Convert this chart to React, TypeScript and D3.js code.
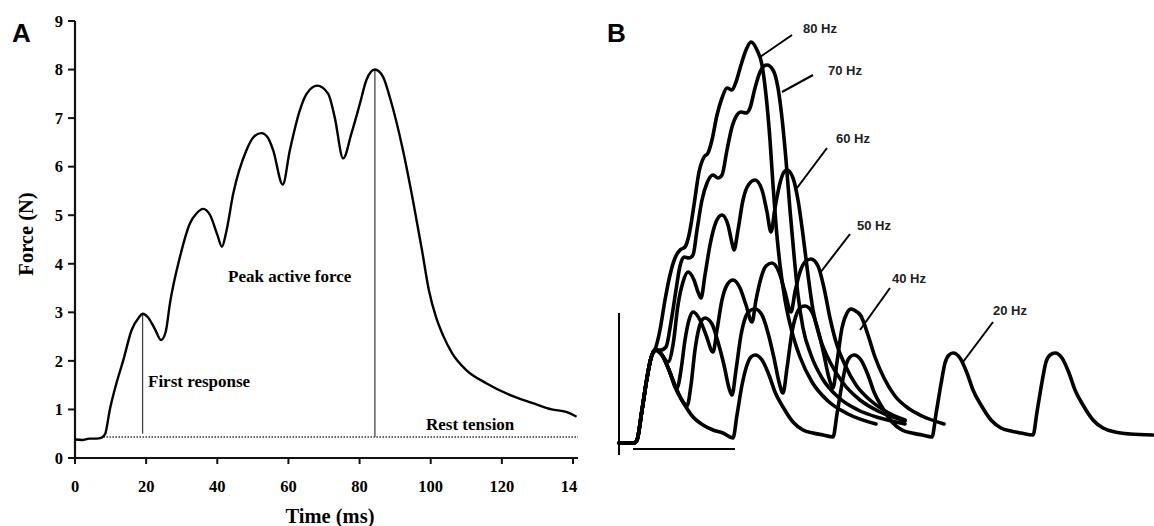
import React from 'react'
import * as d3 from 'd3'

// Panel A: single tetanic contraction, time (ms) vs force (N)
const forceTrace = [
  [0, 0.38], [2, 0.37], [4, 0.4], [6, 0.4], [7.5, 0.42], [8.5, 0.5], [9.8, 1.0], [11.5, 1.5],
  [13.6, 2.02], [15.9, 2.63], [18, 2.9], [19, 2.97], [20.5, 2.9], [22.5, 2.65], [24.2, 2.43],
  [25.5, 2.6], [26.7, 3.19], [29.5, 4.14], [32.3, 4.83], [34.2, 5.04], [36, 5.13], [38, 5.0],
  [40, 4.6], [41.3, 4.35], [42.5, 4.65], [44.5, 5.45], [48.2, 6.34], [50.1, 6.6], [52.4, 6.69],
  [54.2, 6.6], [55.7, 6.34], [58.4, 5.63], [60.4, 6.34], [63.2, 7.16], [65.1, 7.5], [68.1, 7.67],
  [71.2, 7.5], [73, 7.02], [75.4, 6.17], [77.7, 6.68], [80.1, 7.3], [81.9, 7.78], [84.3, 8.0],
  [86.6, 7.85], [88.5, 7.43], [92.2, 6.34], [95, 5.31], [97.5, 4.3], [99.5, 3.45], [101.5, 2.9],
  [103.5, 2.52], [106, 2.16], [110, 1.81], [115.6, 1.54], [122.2, 1.3], [128.7, 1.13], [134, 1.0],
  [138.1, 0.95], [141, 0.85],
]
const restTension = 0.43
const firstResponse = { t: 19, f: 2.96 }
const peakForce = { t: 84.3, f: 8.0 }
const xTicksA = [0, 20, 40, 60, 80, 100, 120, 140]
const yTicksA = [0, 1, 2, 3, 4, 5, 6, 7, 8, 9]

// Panel B: force traces (ms, % of 80 Hz peak) at several stimulation rates
const onset = [[-9, 0], [-1.5, 0], [0, 0.75], [2.5, 8.25], [5, 16.25], [7, 21.25], [9, 23.25]]
const hz80 = [
  [11.5, 28.25], [14, 35.75], [16.5, 42], [19, 46.25], [21.5, 48.25], [24, 49], [26, 52], [28.5, 59.5],
  [31, 67.75], [33.5, 71.5], [35.5, 72.5], [37.5, 75.75], [40, 82], [42.5, 86.25], [45, 88.75],
  [47.5, 88.25], [49.5, 90.25], [52, 94.5], [54.5, 98.25], [57, 100.25], [60, 98.25], [62.5, 94.5],
  [64.5, 87], [66.5, 75.75], [68, 64.5], [69.5, 54.5], [71.5, 44.5], [74, 35.75], [77.5, 27.75],
  [81.5, 21.5], [87.5, 15.25], [95.5, 10.5], [105.5, 7.25], [119.5, 4.75],
]
const hz70 = [
  [12, 23.25], [14.5, 24], [17, 30.25], [19.5, 38.25], [21.5, 44.25], [23.5, 46.5], [26, 46.25],
  [28, 47], [30, 53.25], [32.5, 60.75], [35, 65], [38, 67], [40.5, 66.25], [42.5, 67], [45, 73.25],
  [47.5, 79], [50, 82], [52, 82.75], [54.5, 82.5], [56.5, 83.75], [59, 88.75], [61.5, 92.75],
  [63.5, 94.25], [65, 94.5], [68, 93.25], [70.5, 88.75], [72.5, 81.25], [74.5, 70.75], [76.5, 58.25],
  [78.5, 47], [80.5, 37], [83, 28.75], [87, 22], [92.5, 16.25], [100.5, 11.5], [110.5, 8.25],
  [121.5, 6.25], [134, 4.75],
]
const hz60 = [
  [12.5, 22], [15.5, 20.25], [18, 24.5], [20.5, 34.5], [23, 40.25], [25.5, 42.75], [28.5, 40.75],
  [30.5, 37.75], [32, 36.25], [34, 42], [36.5, 49.5], [39.5, 55.25], [42.5, 57], [45.5, 54.5],
  [47.5, 50], [48.5, 48.25], [50.5, 53.25], [53, 60.75], [56, 64.75], [59, 65.75], [62.5, 63.25],
  [65, 57.75], [67, 52.75], [69, 58.75], [71.5, 65], [73.5, 67.75], [75, 68.25], [78, 66.25],
  [80.5, 60.75], [83, 52], [85.5, 42], [88, 33.25], [91.5, 26.25], [96.5, 20.25], [103, 15],
  [111.5, 10.75], [121.5, 7.75], [134, 5.5],
]
const hz50 = [
  [12.5, 22], [16, 18.25], [20, 13.75], [22, 18.25], [24, 25.75], [26, 30.75], [28, 32.75],
  [31.5, 30.75], [34.5, 27], [38, 22.75], [40, 28.25], [42.5, 35.75], [45, 39.5], [48, 40.75],
  [51.5, 38.75], [54.5, 34.5], [57.5, 30.25], [59.5, 35.75], [62, 41.25], [64.5, 44.25], [67.5, 45],
  [71, 42.75], [74, 37.75], [77, 32.75], [79, 37.75], [81.5, 42.75], [84, 45.25], [87, 46],
  [90.5, 44.25], [93.5, 38.75], [96.5, 31.25], [99.5, 25.25], [104, 19.5], [109.5, 14.5],
  [116.5, 10.75], [125, 7.75], [134, 5.75],
]
const hz40 = [
  [12.5, 22], [16, 18.25], [20, 13.25], [23, 10.25], [25, 9.25], [27, 14.5], [29, 23.25], [31, 28.75],
  [32.5, 30.75], [34, 31.25], [37.5, 29.75], [40.5, 25.25], [43.5, 19.5], [46, 13.75], [47.5, 12],
  [49.5, 18.25], [52, 27], [54.5, 31.75], [57, 33.25], [59, 33.5], [62.5, 32], [65.5, 27.5],
  [68.5, 21.25], [71, 15.25], [73, 12.5], [75, 18.75], [77.5, 27.75], [80, 32.5], [82, 34],
  [84, 34.25], [87.5, 32.75], [90.5, 28.25], [93.5, 22], [96, 16.25], [98, 13.75], [100, 20.25],
  [102.5, 28.75], [105, 32.5], [107, 33.5], [108.5, 33.25], [112, 31.75], [115.5, 27], [119, 21.5],
  [123.5, 16.25], [129, 11.75], [135.5, 8.75], [142.5, 6.75], [153.5, 4.75],
]
const hz20 = [
  [12.5, 22], [16, 18.25], [19, 14], [23, 10.25], [28, 6.5], [33, 4.5], [38, 3.25], [43, 2.5], [48, 1.25],
  [50, 7], [52.5, 14.5], [55, 19.5], [57, 21.5], [59, 22],
  [62.5, 20.75], [66, 17], [69, 12.75], [73, 9], [78, 5.25], [83, 3.25], [88, 2.5], [93, 2], [98, 1.5],
  [100, 7.25], [102.5, 14.75], [104.5, 19.5], [106.5, 21.5], [108.5, 22],
  [112, 20.75], [115.5, 17], [118.5, 12.75], [122.5, 9], [127.5, 5.25], [132.5, 3.25], [137.5, 2.5],
  [142.5, 2], [147.5, 1.5],
  [149.5, 7.25], [152, 14.75], [154, 20], [156, 22], [158, 22.5],
  [161.5, 21.25], [165, 17.5], [168, 13.25], [172, 9.5], [177, 5.75], [182, 3.75], [187, 3], [192, 2.5],
  [198, 2],
  [200, 7.75], [202.5, 15.25], [204.5, 20.25], [206.5, 22], [209, 22.5],
  [212.5, 21.25], [216, 17.5], [219, 13.25], [223, 9.5], [228, 5.75], [233, 3.75], [239, 2.75],
  [246.5, 2.25], [258, 2],
]
const traceRates = ['20 Hz', '40 Hz', '50 Hz', '60 Hz', '70 Hz', '80 Hz']
const traceBodies = [hz20, hz40, hz50, hz60, hz70, hz80]
const labelSpots = [
  [993, 315, 993, 322, 963, 362],
  [892, 283, 890, 288, 860, 330],
  [857, 230, 850, 234, 820, 273],
  [836, 143, 827, 148, 797, 188],
  [828, 75, 813, 75, 782, 92],
  [803, 33, 792, 35, 760, 57],
]
const scaleBarMs = [-2, 49]
const scaleBarForce = [-3, 32.5]

const serif = '"Liberation Serif", "Times New Roman", serif'
const sans = '"Liberation Sans", Arial, sans-serif'

const App = () => {
  const xA = d3.scaleLinear().domain([0, 140]).range([75, 573])
  const yA = d3.scaleLinear().domain([0, 9]).range([458, 21])
  const lineA = d3.line().x(d => xA(d[0])).y(d => yA(d[1])).curve(d3.curveMonotoneX)

  const xB = d3.scaleLinear().domain([0, 258]).range([637, 1153])
  const yB = d3.scaleLinear().domain([0, 100]).range([443, 43])
  const lineB = d3.line().x(d => xB(d[0])).y(d => yB(d[1])).curve(d3.curveMonotoneX)

  return (
    <svg width="1154" height="526" style={{position: 'absolute', left: 0, top: 0, background: '#fff'}}>
      <defs>
        <clipPath id="clipA">
          <rect x="0" y="0" width="578" height="526"/>
        </clipPath>
      </defs>

      {/* panel A */}
      <text x="12" y="42" fontFamily={sans} fontWeight="bold" fontSize="26">A</text>
      <g clipPath="url(#clipA)">
        <line x1={xA(0)} x2="590" y1={yA(0)} y2={yA(0)} stroke="#111" strokeWidth="2.2"/>
        <line x1={xA(0)} x2={xA(0)} y1={yA(0)} y2={yA(9)} stroke="#111" strokeWidth="2.2"/>
        {yTicksA.map(v => (
          <g key={'y' + v}>
            <line x1={xA(0) - 7} x2={xA(0)} y1={yA(v)} y2={yA(v)} stroke="#111" strokeWidth="2"/>
            <text x={63} y={yA(v)} dy="0.35em" textAnchor="end" fontFamily={serif} fontWeight="bold" fontSize="16.5">{v}</text>
          </g>
        ))}
        {xTicksA.map(v => (
          <g key={'x' + v}>
            <line x1={xA(v)} x2={xA(v)} y1={yA(0)} y2={yA(0) + 6} stroke="#111" strokeWidth="2"/>
            <text x={xA(v)} y={492} textAnchor="middle" fontFamily={serif} fontWeight="bold" fontSize="16.5">{v}</text>
          </g>
        ))}
        <line x1={xA(8)} x2="580" y1={yA(restTension)} y2={yA(restTension)} stroke="#333" strokeWidth="1.5" strokeDasharray="1.5,1.5"/>
        <line x1={xA(firstResponse.t)} x2={xA(firstResponse.t)} y1={yA(firstResponse.f)} y2={yA(0.5)} stroke="#444" strokeWidth="1.3"/>
        <line x1={xA(peakForce.t)} x2={xA(peakForce.t)} y1={yA(peakForce.f)} y2={yA(restTension)} stroke="#666" strokeWidth="1.6"/>
        <path d={lineA(forceTrace)} fill="none" stroke="#000" strokeWidth="2.4"/>
        <text x="148" y="387" fontFamily={serif} fontWeight="bold" fontSize="17">First response</text>
        <text x="228" y="282" fontFamily={serif} fontWeight="bold" fontSize="17">Peak active force</text>
        <text x="426" y="430" fontFamily={serif} fontWeight="bold" fontSize="17">Rest tension</text>
      </g>
      <text x="330" y="523" textAnchor="middle" fontFamily={serif} fontWeight="bold" fontSize="20.5">Time (ms)</text>
      <text transform="translate(33,234) rotate(-90)" textAnchor="middle" fontFamily={serif} fontWeight="bold" fontSize="20.5">Force (N)</text>

      {/* panel B */}
      <text x="607" y="42" fontFamily={sans} fontWeight="bold" fontSize="26">B</text>
      <line x1={xB(-9)} x2={xB(-9)} y1={yB(scaleBarForce[0])} y2={yB(scaleBarForce[1])} stroke="#000" strokeWidth="2"/>
      <line x1={xB(scaleBarMs[0])} x2={xB(scaleBarMs[1])} y1={yB(-1.5)} y2={yB(-1.5)} stroke="#000" strokeWidth="2"/>
      {traceBodies.map((body, i) => (
        <path key={traceRates[i]} d={lineB(onset.concat(body))} fill="none" stroke="#000"
          strokeWidth="3.6" strokeLinejoin="round" strokeLinecap="round"/>
      ))}
      {traceRates.map((r, i) => {
        const s = labelSpots[i]
        return (
          <g key={'l' + r}>
            <line x1={s[2]} y1={s[3]} x2={s[4]} y2={s[5]} stroke="#000" strokeWidth="2"/>
            <text x={s[0]} y={s[1]} fontFamily={sans} fontWeight="bold" fontSize="13" fill="#222">{r}</text>
          </g>
        )
      })}
    </svg>
  )
}

export default App
